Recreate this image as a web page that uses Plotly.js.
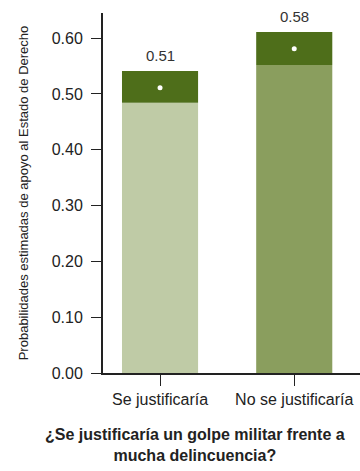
<!DOCTYPE html>
<html><head><meta charset="utf-8">
<script src="https://cdn.plot.ly/plotly-3.0.1.min.js"></script>
<style>html,body{margin:0;padding:0;background:#fff}#c{width:360px;height:471px}</style>
</head><body><div id="c"></div>
<script>
const categories = ["Se justificaría", "No se justificaría"];
const estimates = [0.511, 0.581];
const ciLower = [0.484, 0.552];
const ciUpper = [0.541, 0.611];
const barColors = ["#bfcba6", "#8a9e5e"];
const ciColor = "#4e6e1a";
const yTicks = [0, 0.1, 0.2, 0.3, 0.4, 0.5, 0.6];
const xTitle = "¿Se justificaría un golpe militar frente a<br>mucha delincuencia?";
const yTitle = "Probabilidades estimadas de apoyo al Estado de Derecho";

const FONT = "'Liberation Sans', Arial, sans-serif";
const ciSize = ciUpper.map((u, i) => u - ciLower[i]);

const traces = [
  {type: "bar", x: categories, y: ciLower, marker: {color: barColors}, width: 0.567, hoverinfo: "skip"},
  {type: "bar", x: categories, y: ciSize, base: ciLower, marker: {color: ciColor}, width: 0.567, hoverinfo: "skip"},
  {type: "scatter", mode: "markers", x: categories, y: estimates, marker: {color: "#ffffff", size: 5}, hoverinfo: "skip"}
];

const annotations = categories.map((c, i) => ({
  x: c, y: ciUpper[i], xref: "x", yref: "y", text: estimates[i].toFixed(2),
  showarrow: false, yanchor: "bottom", yshift: 5,
  font: {family: FONT, size: 15, color: "#333333"}
}));
annotations.push({
  xref: "paper", yref: "paper", x: 0.358, y: -0.155, xanchor: "center", yanchor: "top",
  text: "<b>" + xTitle + "</b>", showarrow: false, yshift: 5,
  font: {family: FONT, size: 16, color: "#222222"}
});

const layout = {
  width: 360, height: 471,
  margin: {l: 103, r: 0, t: 13, b: 98},
  barmode: "overlay",
  showlegend: false,
  paper_bgcolor: "#ffffff", plot_bgcolor: "#ffffff",
  font: {family: FONT, color: "#222222"},
  annotations: annotations,
  xaxis: {
    range: [-0.425, 1.49], showline: true, linecolor: "#222222", linewidth: 2,
    ticks: "outside", ticklen: 11, tickcolor: "#222222", tickwidth: 1, ticklabelstandoff: 0,
    tickfont: {family: FONT, size: 16, color: "#222222"}, showgrid: false, zeroline: false
  },
  yaxis: {
    range: [0, 0.645], showline: true, linecolor: "#222222", linewidth: 2,
    ticks: "outside", ticklen: 10, tickcolor: "#222222", tickwidth: 1, ticklabelstandoff: 5,
    tickvals: yTicks, ticktext: yTicks.map(v => v.toFixed(2)),
    tickfont: {family: FONT, size: 16, color: "#222222"}, showgrid: false, zeroline: false,
    title: {text: yTitle, font: {family: FONT, size: 13, color: "#222222"}, standoff: 20}
  }
};
Plotly.newPlot("c", traces, layout, {staticPlot: true, displayModeBar: false});
</script></body></html>
